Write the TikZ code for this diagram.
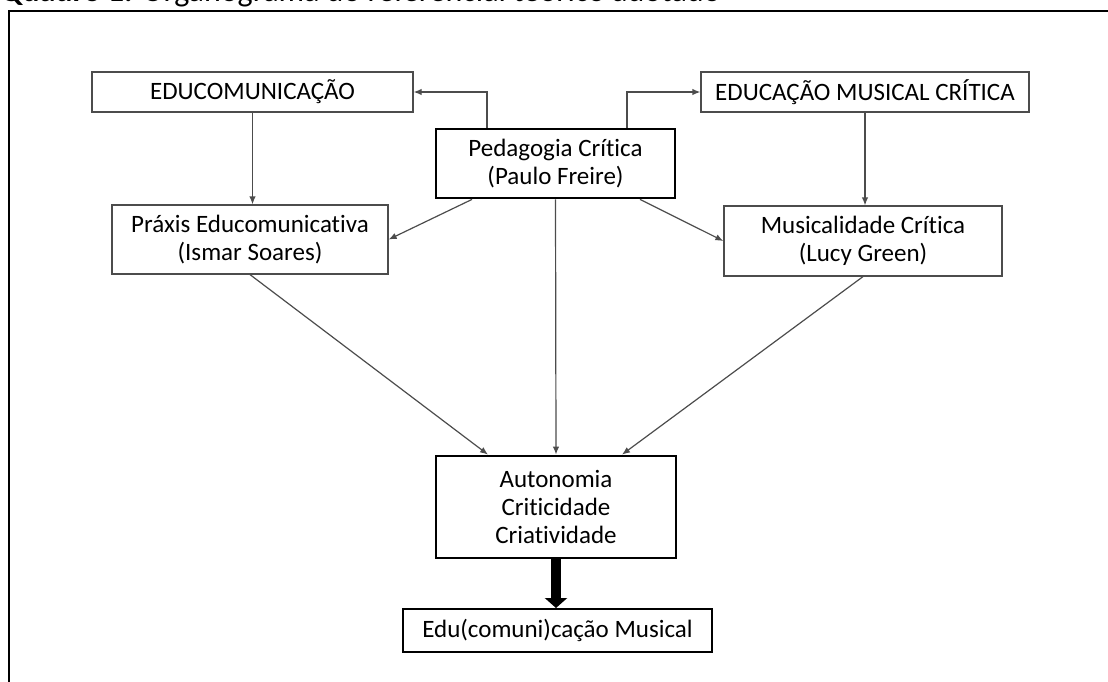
\documentclass[tikz,border=0pt]{standalone}
\usepackage{fontspec}
\setmainfont[Ligatures=NoCommon]{Carlito}
\usetikzlibrary{arrows.meta}

\begin{document}
\begin{tikzpicture}[x=0.5pt, y=-0.5pt,
    box/.style={draw=black!70, semithick, fill=white, align=center, inner sep=0pt,
        font=\fontsize{12.5}{14}\selectfont},
    mainbox/.style={box, draw=black, line width=1.4pt},
    conn/.style={-{Latex[length=4pt,width=3.2pt]}, black!70, semithick},
    bigarrow/.style={-{Triangle[length=5pt,width=11pt]}, line width=5pt}]

    % Page size
    \def\W{1108}
    \def\H{681}
    \clip (0, 0) rectangle (\W, \H);
    \useasboundingbox (0, 0) rectangle (\W, \H);

    % Caption and frame
    \node[anchor=base west, inner sep=0pt, font=\fontsize{16}{18}\selectfont] (title) at (0, 1)
        {\textbf{Quadro 1.} Organograma do referencial teórico adotado};
    \draw[line width=1.2pt] (\W+5, 11) -- (9, 11) -- (9, \H+5);

    % Top row
    \node[box, minimum width=160.5pt, minimum height=20pt] (educ) at (252.5, 92) {EDUCOMUNICAÇÃO};
    \node[box, minimum width=164pt, minimum height=20pt] (emc) at (865, 92) {EDUCAÇÃO MUSICAL CRÍTICA};
    \node[mainbox, minimum width=119.5pt, minimum height=34.5pt] (ped) at (555.5, 163.5)
        {Pedagogia Crítica\\(Paulo Freire)};

    % Middle row
    \node[box, minimum width=138pt, minimum height=34.5pt] (praxis) at (250, 239.5)
        {Práxis Educomunicativa\\(Ismar Soares)};
    \node[box, minimum width=139pt, minimum height=35pt] (music) at (863, 241)
        {Musicalidade Crítica\\(Lucy Green)};

    % Bottom
    \node[mainbox, minimum width=120pt, minimum height=51pt] (auto) at (556, 507)
        {Autonomia\\Criticidade\\Criatividade};
    \node[box, draw=black, line width=1pt, minimum width=154.5pt, minimum height=21.5pt] (edu)
        at (557.5, 630.5) {Edu(comuni)cação Musical};

    % Connectors
    \draw[conn] ([xshift=-34.25pt]ped.north) |- (educ.east);
    \draw[conn] ([xshift=35.75pt]ped.north) |- (emc.west);
    \draw[conn] (educ.south) -- (praxis.north -| educ.south);
    \draw[conn] (emc.south) -- (music.north -| emc.south);
    \draw[conn] ([xshift=-41.75pt]ped.south) -- (praxis.east);
    \draw[conn] ([xshift=42.25pt]ped.south) -- (music.west);
    \draw[conn] (praxis.south) -- ([xshift=-34pt]auto.north);
    \draw[conn] (ped.south) -- (auto.north);
    \draw[conn] (music.south) -- ([xshift=33pt]auto.north);

    % Thick arrow
    \draw[bigarrow] (auto.south) -- (auto.south |- edu.north);

\end{tikzpicture}
\end{document}
